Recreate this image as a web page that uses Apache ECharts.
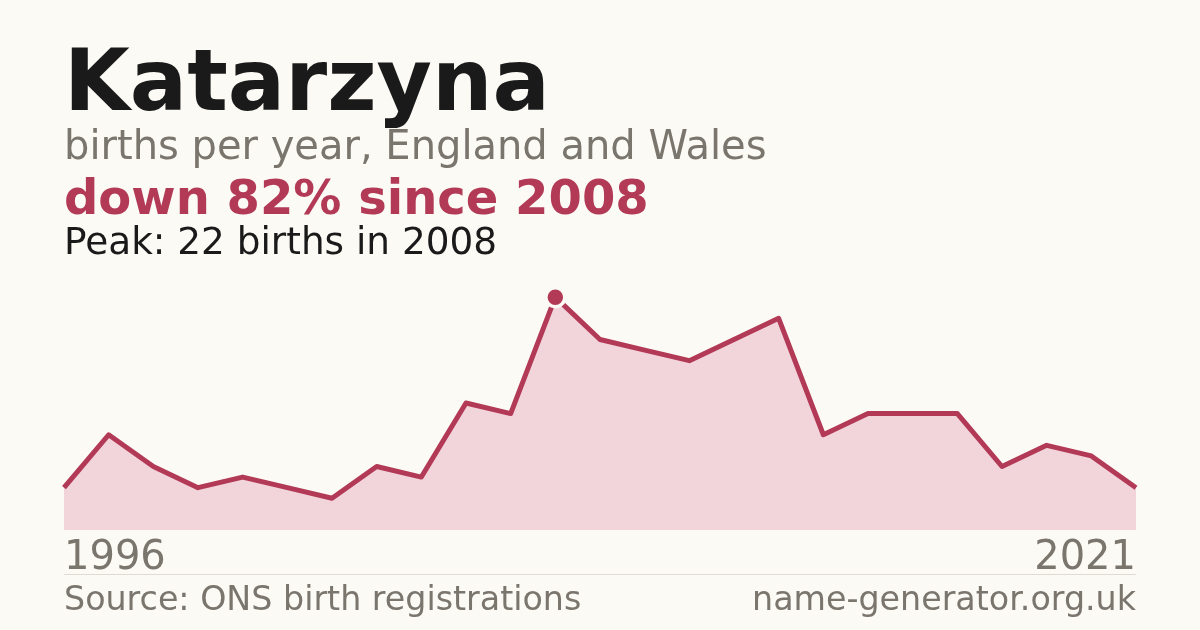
<!DOCTYPE html>
<html>
<head>
<meta charset="utf-8">
<script src="https://cdn.jsdelivr.net/npm/echarts@6/dist/echarts.min.js"></script>
<style>
  html, body { margin: 0; padding: 0; background: #fbfaf5; }
  #chart { width: 1200px; height: 630px; }
</style>
</head>
<body>
<div id="chart"></div>
<script>
  // one year before the peak is not published (fewer than 3 births)
  var years = ['1996', '1998', '1999', '2000', '2001', '2002', '2003', '2004', '2005', '2006',
    '2007', '2008', '2009', '2010', '2011', '2012', '2013', '2014', '2015', '2016',
    '2017', '2018', '2019', '2020', '2021'];
  var births = [4, 9, 6, 4, 5, 4, 3, 6, 5, 12, 11, 22, 18, 17, 16, 18, 20, 9, 11, 11, 11, 6, 8, 7, 4];

  var FONT = '"DejaVu Sans", sans-serif';
  var RED = '#b33a57';
  var GREY = '#7a756d';
  var BG = '#fbfaf5';

  var chart = echarts.init(document.getElementById('chart'));

  function txt(x, y, text, size, weight, color, align) {
    return {
      type: 'text',
      x: x,
      y: y,
      style: {
        text: text,
        font: weight + ' ' + size + 'px ' + FONT,
        fill: color,
        align: align || 'left',
        verticalAlign: 'middle'
      }
    };
  }

  var option = {
    backgroundColor: BG,
    animation: false,
    grid: { left: 64, right: 64, top: 276, bottom: 100 },
    xAxis: {
      type: 'category',
      data: years,
      boundaryGap: false,
      axisLine: { show: false },
      axisTick: { show: false },
      splitLine: { show: false },
      axisLabel: {
        interval: function (i) { return i === 0 || i === years.length - 1; },
        alignMinLabel: 'left',
        alignMaxLabel: 'right',
        fontFamily: FONT,
        fontSize: 40,
        color: GREY,
        margin: 9
      }
    },
    yAxis: {
      type: 'value',
      min: 0,
      max: 24,
      show: false
    },
    series: [{
      type: 'line',
      data: births,
      symbol: 'none',
      lineStyle: { color: RED, width: 5, join: 'round' },
      areaStyle: { color: '#f2d5db', opacity: 1 },
      markPoint: {
        data: [{ type: 'max' }],
        symbol: 'circle',
        symbolSize: 19,
        itemStyle: { color: RED, borderColor: BG, borderWidth: 3.5 },
        label: { show: false }
      }
    }],
    graphic: [
      txt(64, 88, 'Katarzyna', 85, 'bold', '#1a1a1a'),
      txt(64, 149, 'births per year, England and Wales', 40, 'normal', GREY),
      txt(64, 202, 'down 82% since 2008', 48, 'bold', RED),
      txt(64, 244, 'Peak: 22 births in 2008', 37.4, 'normal', '#1a1a1a'),
      {
        type: 'line',
        shape: { x1: 64, y1: 574.5, x2: 1136, y2: 574.5 },
        style: { stroke: '#dedbd4', lineWidth: 1 }
      },
      txt(64, 601, 'Source: ONS birth registrations', 33.3, 'normal', GREY),
      txt(1136, 601, 'name-generator.org.uk', 33.3, 'normal', GREY, 'right')
    ]
  };

  chart.setOption(option);
</script>
</body>
</html>
